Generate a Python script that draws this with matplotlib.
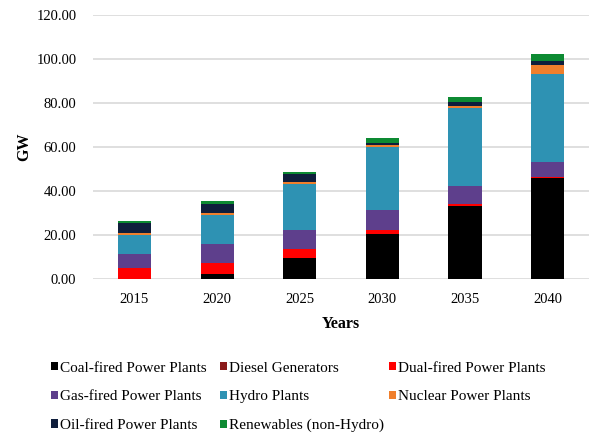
import numpy as np
import matplotlib
matplotlib.use('Agg')
import matplotlib.pyplot as plt
from matplotlib.patches import Patch
from matplotlib.ticker import FormatStrFormatter

plt.rcParams['font.family'] = 'Liberation Serif'

years = ['2015', '2020', '2025', '2030', '2035', '2040']

coal = [0.0, 2.3, 9.4, 20.5, 33.2, 45.8]
diesel = [0.1, 0.1, 0.1, 0.1, 0.1, 0.1]
dual = [4.9, 4.8, 4.1, 1.5, 0.8, 0.3]
gas = [6.5, 8.6, 8.5, 9.1, 8.3, 6.8]
hydro = [8.6, 13.3, 21.2, 28.8, 35.3, 40.2]
nuclear = [0.6, 0.7, 0.8, 0.8, 0.7, 4.2]
oil = [4.8, 4.5, 3.5, 1.2, 1.8, 1.4]
renew = [1.0, 1.0, 1.2, 2.1, 2.3, 3.3]

series = [
    ('Coal-fired Power Plants', coal, '#000000'),
    ('Diesel Generators', diesel, '#8b1a1a'),
    ('Dual-fired Power Plants', dual, '#ff0000'),
    ('Gas-fired Power Plants', gas, '#5e3f8c'),
    ('Hydro Plants', hydro, '#2e92b3'),
    ('Nuclear Power Plants', nuclear, '#f07f2c'),
    ('Oil-fired Power Plants', oil, '#0f1e3c'),
    ('Renewables (non-Hydro)', renew, '#0d8a32'),
]

fig = plt.figure(figsize=(5.89, 4.34), dpi=100)
ax = fig.add_axes([0.158, 0.357, 0.842, 0.609])

x = np.arange(len(years))
bottom = np.zeros(len(years))
handles = {}
for name, vals, col in series:
    ax.bar(x, vals, 0.4, bottom=bottom, color=col, zorder=3)
    bottom += np.array(vals)
    handles[name] = Patch(facecolor=col, edgecolor='none', label=name)

ax.set_xlim(-0.5, 5.5)
ax.set_ylim(0, 120)
ax.set_yticks(np.arange(0, 121, 20))
ax.yaxis.set_major_formatter(FormatStrFormatter('%.2f'))
ax.set_xticks(x)
ax.set_xticklabels(years)
ax.grid(axis='y', color='#d9d9d9', linewidth=1.2, zorder=0)
for s in ax.spines.values():
    s.set_visible(False)
ax.tick_params(axis='x', length=0, labelsize=10.5, pad=10)
ax.tick_params(axis='y', length=0, labelsize=10.5, pad=12)

ax.set_xlabel('Years', fontsize=11.5, fontweight='bold', labelpad=7)
ax.set_ylabel('GW', fontsize=11.5, fontweight='bold', labelpad=3)

# legend: three columns placed separately so they line up like the original
columns = [
    ['Coal-fired Power Plants', 'Gas-fired Power Plants', 'Oil-fired Power Plants'],
    ['Diesel Generators', 'Hydro Plants', 'Renewables (non-Hydro)'],
    ['Dual-fired Power Plants', 'Nuclear Power Plants'],
]
col_x = [0.087, 0.374, 0.661]
for names, cx in zip(columns, col_x):
    fig.legend([handles[n] for n in names], names, loc='upper left',
               bbox_to_anchor=(cx, 0.167), frameon=False, fontsize=11,
               handlelength=0.45, handleheight=0.45, handletextpad=0.15,
               labelspacing=1.03, borderaxespad=0, borderpad=0)

fig.savefig('out.png', dpi=100)
